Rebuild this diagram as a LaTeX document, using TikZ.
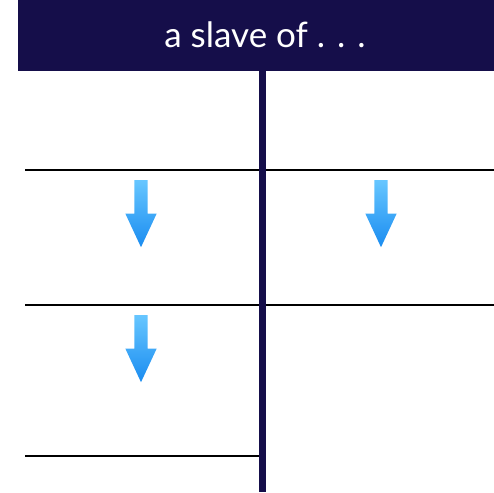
\documentclass[tikz,border=0pt]{standalone}
\usepackage{fontspec}
\setmainfont{Lato}
\usetikzlibrary{shapes.arrows,positioning}
\definecolor{SlaveNavy}{HTML}{150E4A}
\definecolor{ArrowTop}{HTML}{66C6FF}
\definecolor{ArrowBottom}{HTML}{1A8CF0}

\begin{document}
\begin{tikzpicture}[
  x=1pt,y=-1pt,
  banner/.style={rectangle,fill=SlaveNavy,inner sep=0pt,minimum width=476pt,minimum height=71pt,text=white,font=\fontsize{35}{40}\selectfont},
  rule/.style={draw=black,line width=1.5pt},
  divider/.style={draw=SlaveNavy,line width=7pt},
  downarrow/.style={single arrow,shape border rotate=270,top color=ArrowTop,bottom color=ArrowBottom,draw=none,inner sep=6.5pt,minimum height=67pt,single arrow head extend=9pt,single arrow tip angle=50,anchor=tail}
]
\useasboundingbox (0,0) rectangle (494,492);
\node[banner] (header) at (256,35.5) {\hspace*{18pt}\raisebox{2pt}{a slave of . . .}};
\coordinate (top) at (262,71);
\coordinate (bottom) at (262,492);
\coordinate (rowA) at (25,170);
\coordinate (rowAend) at (494,170);
\coordinate (rowB) at (25,305);
\coordinate (rowBend) at (494,305);
\coordinate (rowC) at (25,456);
\coordinate (rowCend) at (262,456);
\draw[rule] (rowA) -- (rowAend);
\draw[rule] (rowB) -- (rowBend);
\draw[rule] (rowC) -- (rowCend);
\draw[divider] (top) -- (bottom);
\node[downarrow] (leftup) at (141,180) {};
\node[downarrow] (rightup) at (381,180) {};
\node[downarrow] (leftdown) at (141,315) {};
\end{tikzpicture}
\end{document}
